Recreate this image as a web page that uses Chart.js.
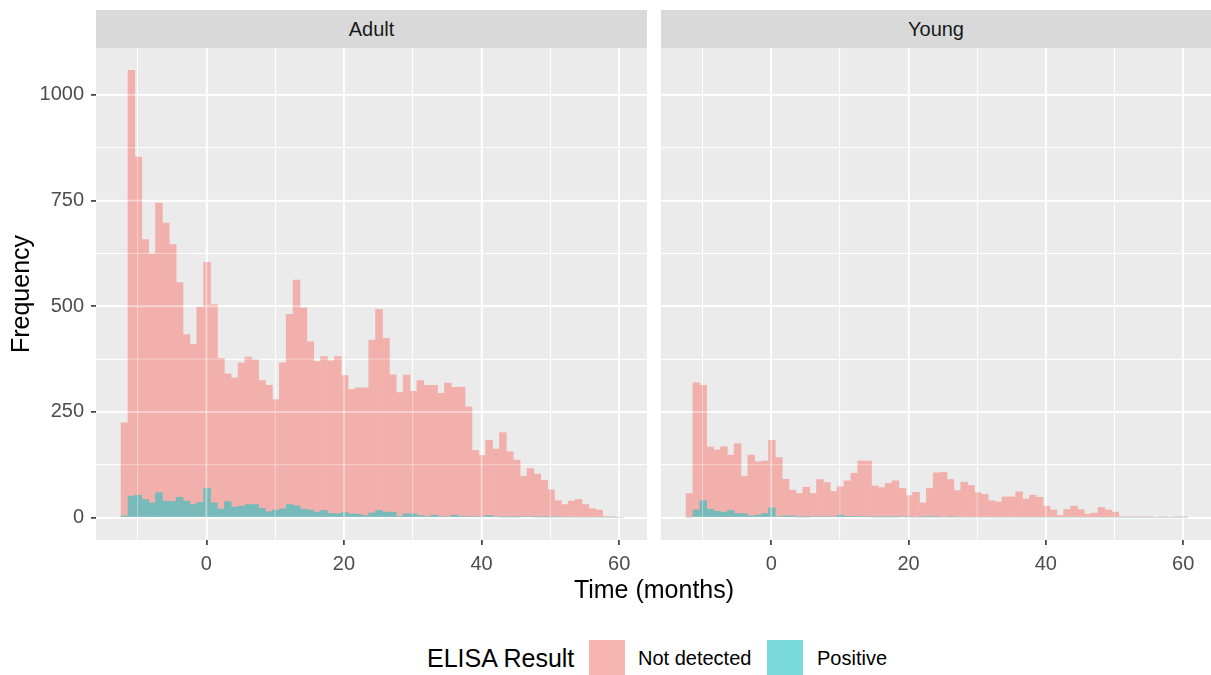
<!DOCTYPE html>
<html>
<head>
<meta charset="utf-8">
<script src="https://cdn.jsdelivr.net/npm/chart.js@4.4.1/dist/chart.umd.min.js"></script>
<style>
  body { margin: 0; background: #fff; width: 1211px; height: 675px; overflow: hidden; position: relative;
         font-family: "Liberation Sans", Arial, sans-serif; }
  canvas { position: absolute; }
  .strip { position: absolute; top: 10px; height: 38px; background: #D9D9D9; color: #1A1A1A;
           font-size: 20px; line-height: 38px; text-align: center; z-index: 2; }
  .txt { position: absolute; white-space: nowrap; color: #000; }
  .key { position: absolute; top: 640px; width: 36px; height: 36px; }
</style>
</head>
<body>
<canvas id="adult" width="660" height="550" style="left:0px;top:28px"></canvas>
<canvas id="young" width="556" height="550" style="left:655px;top:28px"></canvas>
<div class="strip" style="left:96px;width:551px">Adult</div>
<div class="strip" style="left:661px;width:550px">Young</div>
<div class="txt" style="left:0;width:1308px;text-align:center;top:575px;font-size:25px">Time (months)</div>
<div class="txt" style="left:427px;top:644px;font-size:25px">ELISA Result</div>
<div class="key" style="left:589px;background:#F5B4B0"></div>
<div class="txt" style="left:638px;top:647px;font-size:20px">Not detected</div>
<div class="key" style="left:767px;background:#79D9DB"></div>
<div class="txt" style="left:817px;top:647px;font-size:20px">Positive</div>
<script>
// bin centres (months), 1-month bins
const binCentres = [-11.9, -10.9, -9.9, -8.9, -7.9, -6.9, -5.9, -4.9, -3.9, -2.9, -1.9, -0.9, 0.1,
  1.1, 2.1, 3.1, 4.1, 5.1, 6.1, 7.1, 8.1, 9.1, 10.1, 11.1, 12.1, 13.1, 14.1, 15.1, 16.1, 17.1,
  18.1, 19.1, 20.1, 21.1, 22.1, 23.1, 24.1, 25.1, 26.1, 27.1, 28.1, 29.1, 30.1, 31.1, 32.1, 33.1,
  34.1, 35.1, 36.1, 37.1, 38.1, 39.1, 40.1, 41.1, 42.1, 43.1, 44.1, 45.1, 46.1, 47.1, 48.1, 49.1,
  50.1, 51.1, 52.1, 53.1, 54.1, 55.1, 56.1, 57.1, 58.1, 59.1, 60.1];

const adultNotDetected = [224, 1058, 853, 658, 624, 744, 697, 646, 556, 433, 410, 498, 604,
  504, 377, 340, 331, 366, 380, 373, 324, 313, 279, 366, 481, 562, 496, 416, 369, 381,
  371, 381, 336, 303, 307, 307, 420, 493, 424, 338, 296, 337, 299, 324, 313, 313,
  294, 318, 308, 309, 262, 159, 147, 183, 162, 201, 156, 136, 98, 116, 103, 88,
  66, 40, 31, 39, 43, 31, 21, 18, 3, 1, 0];
const adultPositive = [4, 51, 53, 43, 35, 59, 39, 38, 48, 39, 31, 36, 70,
  35, 20, 38, 25, 27, 31, 31, 22, 14, 18, 21, 31, 28, 20, 18, 13, 17,
  10, 9, 12, 9, 8, 5, 11, 17, 13, 13, 3, 9, 9, 5, 2, 6,
  2, 2, 6, 3, 2, 2, 2, 5, 2, 1, 1, 1, 2, 2, 1, 1,
  0, 1, 0, 0, 0, 0, 0, 0, 0, 0, 0];

const youngNotDetected = [57, 319, 313, 167, 160, 168, 148, 175, 98, 148, 132, 134, 183,
  142, 91, 65, 57, 72, 57, 90, 83, 62, 73, 87, 105, 134, 134, 75, 71, 81,
  87, 69, 52, 60, 35, 69, 106, 107, 90, 64, 84, 76, 59, 55, 40, 37,
  49, 49, 61, 44, 53, 48, 27, 18, 5, 19, 27, 19, 8, 11, 24, 18,
  13, 2, 1, 2, 2, 1, 0, 1, 0, 2, 1];
const youngPositive = [0, 18, 40, 20, 15, 13, 17, 10, 9, 4, 6, 10, 23,
  2, 4, 4, 1, 1, 2, 2, 2, 2, 6, 3, 3, 2, 2, 1, 1, 1,
  1, 2, 1, 0, 1, 1, 1, 0, 1, 0, 0, 0, 0, 0, 0, 0,
  0, 0, 0, 0, 0, 0, 0, 0, 0, 0, 0, 0, 0, 0, 0, 0,
  0, 0, 0, 0, 0, 0, 0, 0, 0, 0, 0];

const xTicks = [0, 20, 40, 60];
const xMinor = [-10, 10, 30, 50];
const yTicks = [0, 250, 500, 750, 1000];
const yMinor = [125, 375, 625, 875];

// alpha 0.5 fills already blended over the grey panel
const pinkFill = '#F2B0AC';
const tealFill = '#78B9B9';
const tickFont = { family: 'Liberation Sans', size: 20 };

const majorW = 1.8, minorW = 0.9;

// grey panel background (theme_grey)
const panelBg = {
  id: 'panelBg',
  beforeDraw(chart) {
    const { ctx, chartArea: a } = chart;
    ctx.save();
    ctx.fillStyle = '#EBEBEB';
    ctx.fillRect(a.left, a.top, a.width, a.height);
    ctx.restore();
  },
  // grid showing faintly through the half transparent bars
  afterDatasetsDraw(chart) {
    const { ctx, chartArea: a, scales } = chart;
    ctx.save();
    ctx.beginPath();
    ctx.rect(a.left, a.top, a.width, a.height);
    ctx.clip();
    ctx.strokeStyle = 'rgba(255,255,255,0.45)';
    scales.x.ticks.forEach(t => {
      const px = scales.x.getPixelForValue(t.value);
      ctx.lineWidth = xTicks.includes(t.value) ? majorW : minorW;
      ctx.beginPath(); ctx.moveTo(px, a.top); ctx.lineTo(px, a.bottom); ctx.stroke();
    });
    scales.y.ticks.forEach(t => {
      const py = scales.y.getPixelForValue(t.value);
      ctx.lineWidth = yTicks.includes(t.value) ? majorW : minorW;
      ctx.beginPath(); ctx.moveTo(a.left, py); ctx.lineTo(a.right, py); ctx.stroke();
    });
    ctx.restore();
  }
};

function allTicks(major, minor) {
  return scale => {
    scale.ticks = major.concat(minor).sort((a, b) => a - b).map(v => ({ value: v }));
  };
}

function gridOpts(major, showTicks) {
  return {
    color: '#FFFFFF',
    lineWidth: c => major.includes(c.tick.value) ? majorW : minorW,
    drawTicks: showTicks,
    tickLength: 5,
    tickWidth: 1.6,
    tickColor: c => major.includes(c.tick.value) ? '#333333' : 'rgba(0,0,0,0)',
    offset: false
  };
}

function makePanel(id, notDetected, positive, showY) {
  const ds = (arr, col, ord) => ({
    data: binCentres.map((x, i) => ({ x: x, y: arr[i] })),
    backgroundColor: col,
    borderWidth: 0,
    barPercentage: 1,
    categoryPercentage: 1,
    grouped: false,
    order: ord
  });
  return new Chart(id, {
    type: 'bar',
    data: { datasets: [ds(notDetected, pinkFill, 2), ds(positive, tealFill, 1)] },
    options: {
      responsive: false,
      animation: false,
      devicePixelRatio: 1,
      layout: { padding: { top: 20, right: showY ? 13 : 0, left: 0, bottom: 0 } },
      plugins: { legend: { display: false }, tooltip: { enabled: false } },
      scales: {
        x: {
          type: 'linear', min: -16.05, max: 64.05, offset: false,
          afterBuildTicks: allTicks(xTicks, xMinor),
          afterFit: s => { s.height = 38; },
          grid: gridOpts(xTicks, true),
          border: { display: false },
          ticks: { font: tickFont, color: '#4D4D4D', padding: 7, maxRotation: 0,
                   callback: v => xTicks.includes(v) ? String(v) : '' }
        },
        y: {
          min: -52.9, max: 1110.9,
          afterBuildTicks: allTicks(yTicks, yMinor),
          afterFit: s => { s.width = showY ? 96 : 6; },
          grid: gridOpts(yTicks, showY),
          border: { display: false },
          ticks: { display: showY, font: tickFont, color: '#4D4D4D', padding: 7,
                   callback: v => yTicks.includes(v) ? String(v) : '' },
          title: { display: showY, text: 'Frequency', color: '#000000',
                   font: { family: 'Liberation Sans', size: 25 }, padding: { top: 7, bottom: 0 } }
        }
      }
    },
    plugins: [panelBg]
  });
}

makePanel('adult', adultNotDetected, adultPositive, true);
makePanel('young', youngNotDetected, youngPositive, false);
</script>
</body>
</html>
